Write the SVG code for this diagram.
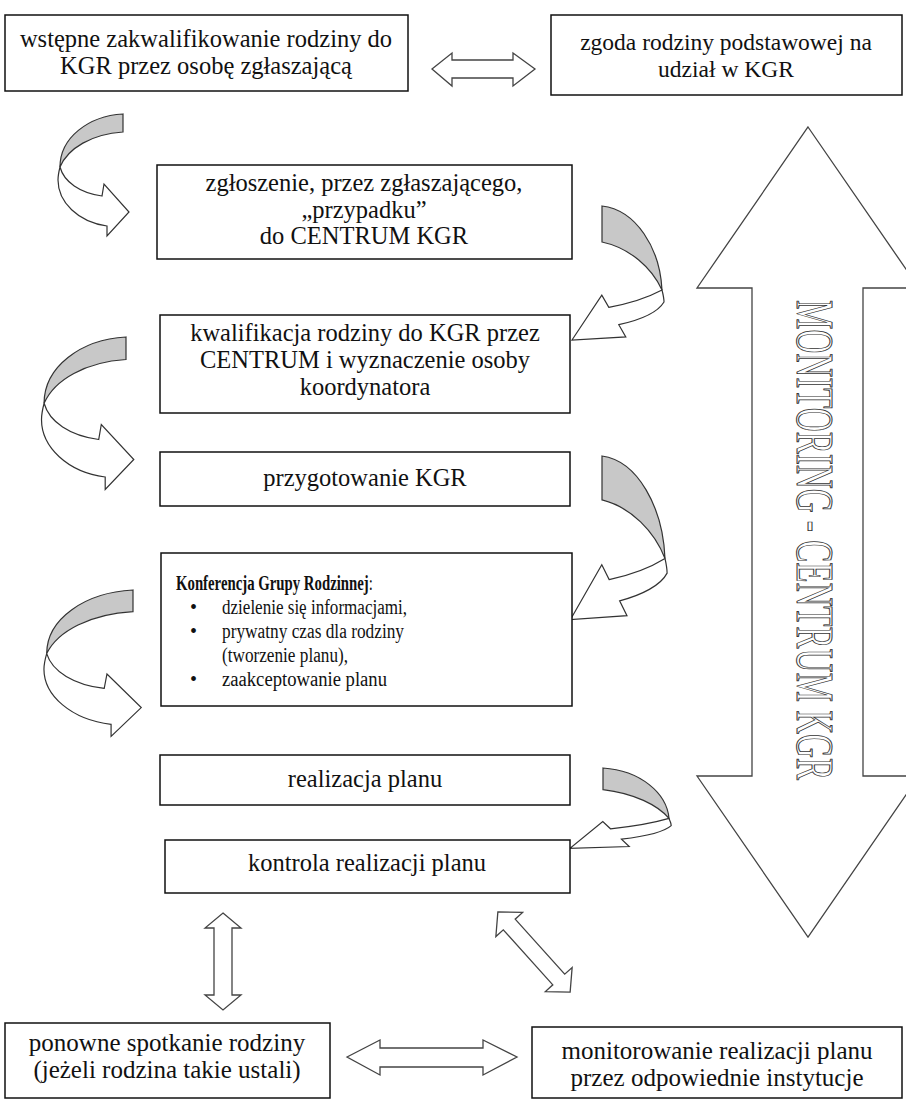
<svg xmlns="http://www.w3.org/2000/svg" width="906" height="1100" viewBox="0 0 906 1100">
<style>
.box{fill:#fff;stroke:#111;stroke-width:1.5}
text{font-family:'Liberation Serif','DejaVu Serif','Times New Roman',serif}
.t{font-size:24.5px;fill:#111;text-anchor:middle}
.tb{font-size:25px}
.tl{font-size:20px;fill:#111}
.arr{fill:#fff;stroke:#444;stroke-width:1.3;stroke-linejoin:miter}
.back{fill:#c8c8c8;stroke:#333;stroke-width:1.2;vector-effect:non-scaling-stroke}
.front{fill:#fff;stroke:#333;stroke-width:1.2;vector-effect:non-scaling-stroke}
.vt{font-size:53px;fill:#fff;stroke:#333;stroke-width:1}
</style>
<defs>
<g id="curveL">
<path class="front" d="M-63,53 C-59,68 -43,79 -21,82 L-19,70 L6,98 L-16,122 L-16,112 C-45,108 -65,88 -65,66 C-65,61 -64,57 -63,53 Z"/>
<path class="back" d="M0,0 C-35,2 -63,24 -63,53 C-55,34 -31,20 0,18 Z"/>
</g>
<g id="curveR">
<path class="front" d="M60,84 C45,92 25,98 6.8,101.3 L-0.2,89.1 L-30,134 L23.8,130.9 L16.8,118.7 C38,114 56,106 62,96 C62,92 61,88 60,84 Z"/>
<path class="back" d="M0,0 C34,4 58,42 60,84 C50,62 28,42 0,36 Z"/>
</g>
</defs>

<g id="monitoring">
<polygon class="arr" points="808,127 919,288 863,288 863,776 919,776 808,937 697,776 752,776 752,288 697,288"/>
<text class="vt" transform="translate(797,300) rotate(90)" x="0" y="0" textLength="480" lengthAdjust="spacingAndGlyphs">MONITORING - CENTRUM KGR</text>
</g>

<g id="connectors">
<polygon class="arr" points="432,69 452,53 452,60 513,60 513,53 535,69 513,86 513,78 452,78 452,86"/>
<use href="#curveL" transform="translate(123,114)"/>
<use href="#curveR" transform="translate(602,206)"/>
<use href="#curveL" transform="translate(126,337) scale(1.3,1.25)"/>
<use href="#curveR" transform="translate(602,456) scale(1.05,1.22)"/>
<use href="#curveL" transform="translate(133,590) scale(1.37,1.2)"/>
<use href="#curveR" transform="translate(603,768) scale(1.1,0.6)"/>
<polygon class="arr" points="223,913 241,928 232,928 232,995 241,995 223,1010 205,995 214,995 214,928 205,928"/>
<polygon class="arr" transform="translate(534,952) rotate(48)" points="-54,0 -37,-18 -37,-8 37,-8 37,-18 54,0 37,18 37,8 -37,8 -37,18"/>
<polygon class="arr" points="347,1057 380,1040 380,1048 483,1048 483,1040 517,1057 483,1075 483,1067 380,1067 380,1075"/>
</g>

<g id="n1">
<rect class="box" x="5" y="15" width="403" height="76"/>
<text class="t" x="206" y="47">wstępne zakwalifikowanie rodziny do</text>
<text class="t" x="206" y="74">KGR przez osobę zgłaszającą</text>
</g>
<g id="n2">
<rect class="box" x="551" y="15" width="351" height="80"/>
<text class="t" x="726" y="50" style="font-size:23.5px">zgoda rodziny podstawowej na</text>
<text class="t" x="726" y="77" style="font-size:23.5px">udział w KGR</text>
</g>
<g id="n3">
<rect class="box" x="157" y="165" width="415" height="94"/>
<text class="t" x="364" y="191">zgłoszenie, przez zgłaszającego,</text>
<text class="t" x="364" y="218">„przypadku”</text>
<text class="t" x="364" y="244">do CENTRUM KGR</text>
</g>
<g id="n4">
<rect class="box" x="160" y="315" width="410" height="98"/>
<text class="t" x="365" y="341">kwalifikacja rodziny do KGR przez</text>
<text class="t" x="365" y="368">CENTRUM i wyznaczenie osoby</text>
<text class="t" x="365" y="395">koordynatora</text>
</g>
<g id="n5">
<rect class="box" x="160" y="452" width="410" height="54"/>
<text class="t" x="365" y="486">przygotowanie KGR</text>
</g>
<g id="n6">
<rect class="box" x="161" y="553" width="411" height="153"/>
<text class="tl" transform="translate(176,590) scale(0.74,1)"><tspan font-weight="bold">Konferencja Grupy Rodzinnej</tspan>:</text>
<text class="tl" x="190" y="614">•</text><text class="tl" x="222" y="614" textLength="185" lengthAdjust="spacingAndGlyphs">dzielenie się informacjami,</text>
<text class="tl" x="190" y="638">•</text><text class="tl" x="222" y="638" textLength="182" lengthAdjust="spacingAndGlyphs">prywatny czas dla rodziny</text>
<text class="tl" x="222" y="662" textLength="126" lengthAdjust="spacingAndGlyphs">(tworzenie planu),</text>
<text class="tl" x="190" y="686">•</text><text class="tl" x="222" y="686" textLength="165" lengthAdjust="spacingAndGlyphs">zaakceptowanie planu</text>
</g>
<g id="n7">
<rect class="box" x="160" y="755" width="410" height="50"/>
<text class="t" x="365" y="787">realizacja planu</text>
</g>
<g id="n8">
<rect class="box" x="165" y="840" width="405" height="53"/>
<text class="t" x="367" y="871">kontrola realizacji planu</text>
</g>
<g id="n9">
<rect class="box" x="5" y="1023" width="325" height="75"/>
<text class="t tb" x="167" y="1051">ponowne spotkanie rodziny</text>
<text class="t tb" x="167" y="1078">(jeżeli rodzina takie ustali)</text>
</g>
<g id="n10">
<rect class="box" x="532" y="1027" width="370" height="71"/>
<text class="t tb" x="717" y="1059">monitorowanie realizacji planu</text>
<text class="t tb" x="717" y="1086">przez odpowiednie instytucje</text>
</g>
</svg>
